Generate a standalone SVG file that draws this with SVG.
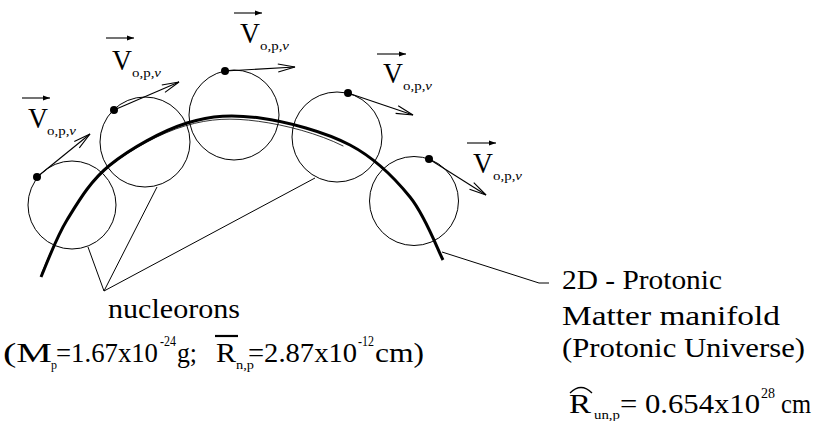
<svg xmlns="http://www.w3.org/2000/svg" width="817" height="421" viewBox="0 0 817 421">
<style>
  .ring { fill: none; stroke: #000; stroke-width: 1; }
  .dot { fill: #000; }
  .vel { stroke: #000; stroke-width: 1.1; fill: none; marker-end: url(#vhead); }
  .over { stroke: #000; stroke-width: 1.1; fill: none; marker-end: url(#ohead); }
  .lead { stroke: #000; stroke-width: 1; fill: none; }
  text { font-family: "Liberation Serif", "Times New Roman", serif; fill: #000; }
  .big { font-size: 28px; }
  .V { font-size: 29px; }
  .sub { font-size: 13px; }
  .ssub { font-size: 12px; }
  .sup { font-size: 15px; }
</style>
<defs>
  <marker id="vhead" markerUnits="userSpaceOnUse" markerWidth="24" markerHeight="14" viewBox="-20 -7 24 14" refX="0" refY="0" orient="auto">
    <path d="M-17,-4 L0,0 L-17,4" fill="none" stroke="#000" stroke-width="1.1"/>
  </marker>
  <marker id="ohead" markerUnits="userSpaceOnUse" markerWidth="12" markerHeight="8" viewBox="-9 -4 12 8" refX="0" refY="0" orient="auto">
    <path d="M-7,-2.5 L0,0 L-7,2.5 Z" fill="#000" stroke="none"/>
  </marker>
</defs>

<g id="manifold">
  <path d="M41,277 C45.3,267.5 55.5,238.7 67,220 C78.5,201.3 90,181.2 110,165 C130,148.8 162,130.8 187,123 C212,115.2 232.8,114.3 260,118 C287.2,121.7 325,131.8 350,145 C375,158.2 394.5,177.8 410,197 C425.5,216.2 437.5,249.5 443,260" fill="none" stroke="#000" stroke-width="3"/>
  <path d="M43,272 C47.3,262.5 57.5,236.7 69,218 C80.5,199.3 92,180.2 112,164 C132,148 162,131.5 187,124.2 C212,116.8 232.8,116 260,119.7 C287.2,123.4 320,132 345,144.5" fill="none" stroke="#000" stroke-width="0.8" transform="translate(-1.6,1.6)"/>
</g>

<g id="nucleon1">
  <circle class="ring" cx="72" cy="205" r="44"/>
  <line class="vel" x1="37" y1="177" x2="90" y2="134"/>
  <circle class="dot" cx="37" cy="177" r="4"/>
  <line class="over" x1="22" y1="98" x2="50" y2="98"/>
  <text class="V" x="28" y="128" textLength="20" lengthAdjust="spacingAndGlyphs">V</text>
  <text class="sub" x="47" y="135" textLength="29" lengthAdjust="spacingAndGlyphs">o,p,<tspan font-style="italic">ν</tspan></text>
</g>
<g id="nucleon2">
  <circle class="ring" cx="145" cy="142" r="45"/>
  <line class="vel" x1="114" y1="110" x2="179" y2="82"/>
  <circle class="dot" cx="114" cy="110" r="4"/>
  <line class="over" x1="106" y1="38" x2="134" y2="38"/>
  <text class="V" x="112" y="70" textLength="20" lengthAdjust="spacingAndGlyphs">V</text>
  <text class="sub" x="132" y="77" textLength="29" lengthAdjust="spacingAndGlyphs">o,p,<tspan font-style="italic">ν</tspan></text>
</g>
<g id="nucleon3">
  <circle class="ring" cx="234" cy="115" r="45"/>
  <line class="vel" x1="225" y1="71" x2="295" y2="67"/>
  <circle class="dot" cx="225" cy="71" r="4"/>
  <line class="over" x1="234" y1="13" x2="262" y2="13"/>
  <text class="V" x="240" y="43" textLength="20" lengthAdjust="spacingAndGlyphs">V</text>
  <text class="sub" x="260" y="50" textLength="29" lengthAdjust="spacingAndGlyphs">o,p,<tspan font-style="italic">ν</tspan></text>
</g>
<g id="nucleon4">
  <circle class="ring" cx="337" cy="137" r="45"/>
  <line class="vel" x1="348" y1="93" x2="413" y2="115"/>
  <circle class="dot" cx="348" cy="93" r="4"/>
  <line class="over" x1="377" y1="54" x2="406" y2="54"/>
  <text class="V" x="383" y="83" textLength="20" lengthAdjust="spacingAndGlyphs">V</text>
  <text class="sub" x="403" y="90" textLength="29" lengthAdjust="spacingAndGlyphs">o,p,<tspan font-style="italic">ν</tspan></text>
</g>
<g id="nucleon5">
  <circle class="ring" cx="414" cy="201" r="44.5"/>
  <line class="vel" x1="429" y1="159" x2="486" y2="195"/>
  <circle class="dot" cx="429" cy="159" r="4"/>
  <line class="over" x1="467" y1="143" x2="496" y2="143"/>
  <text class="V" x="473" y="173" textLength="20" lengthAdjust="spacingAndGlyphs">V</text>
  <text class="sub" x="493" y="180" textLength="29" lengthAdjust="spacingAndGlyphs">o,p,<tspan font-style="italic">ν</tspan></text>
</g>

<g id="connectors">
  <polyline class="lead" points="88,247 104,291 157,187"/>
  <line class="lead" x1="104" y1="291" x2="315" y2="178"/>
  <polyline class="lead" points="442,252 539,283 549,283"/>
</g>

<g id="label-nucleorons">
  <text class="big" x="108" y="318" textLength="132" lengthAdjust="spacingAndGlyphs">nucleorons</text>
  <text class="big" x="3" y="362" textLength="49" lengthAdjust="spacingAndGlyphs">(M</text>
  <text class="ssub" x="51" y="369">p</text>
  <text class="big" x="56" y="362" textLength="102" lengthAdjust="spacingAndGlyphs">=1.67x10</text>
  <text class="sup" x="160" y="346" textLength="16" lengthAdjust="spacingAndGlyphs">-24</text>
  <text class="big" x="177" y="362" textLength="20" lengthAdjust="spacingAndGlyphs">g;</text>
  <line x1="215" y1="336" x2="238" y2="336" stroke="#000" stroke-width="2.2"/>
  <text class="big" x="216" y="362" textLength="20" lengthAdjust="spacingAndGlyphs">R</text>
  <text class="ssub" x="236" y="369" textLength="18" lengthAdjust="spacingAndGlyphs">n,p</text>
  <text class="big" x="248" y="362" textLength="109" lengthAdjust="spacingAndGlyphs">=2.87x10</text>
  <text class="sup" x="358" y="346" textLength="16" lengthAdjust="spacingAndGlyphs">-12</text>
  <text class="big" x="375" y="362" textLength="49" lengthAdjust="spacingAndGlyphs">cm)</text>
</g>

<g id="label-manifold">
  <text class="big" x="562" y="289" textLength="160" lengthAdjust="spacingAndGlyphs">2D - Protonic</text>
  <text class="big" x="562" y="325" textLength="218" lengthAdjust="spacingAndGlyphs">Matter manifold</text>
  <text class="big" x="562" y="357" textLength="243" lengthAdjust="spacingAndGlyphs">(Protonic Universe)</text>
  <path d="M570,393 Q581,382 592,393" fill="none" stroke="#000" stroke-width="1.3"/>
  <text class="big" x="569" y="413" textLength="22" lengthAdjust="spacingAndGlyphs">R</text>
  <text class="ssub" x="594" y="419" textLength="26" lengthAdjust="spacingAndGlyphs">un,p</text>
  <text class="big" x="620" y="413" textLength="140" lengthAdjust="spacingAndGlyphs">= 0.654x10</text>
  <text class="sup" x="761" y="398" textLength="14" lengthAdjust="spacingAndGlyphs">28</text>
  <text class="big" x="781" y="413" textLength="30" lengthAdjust="spacingAndGlyphs">cm</text>
</g>
</svg>
